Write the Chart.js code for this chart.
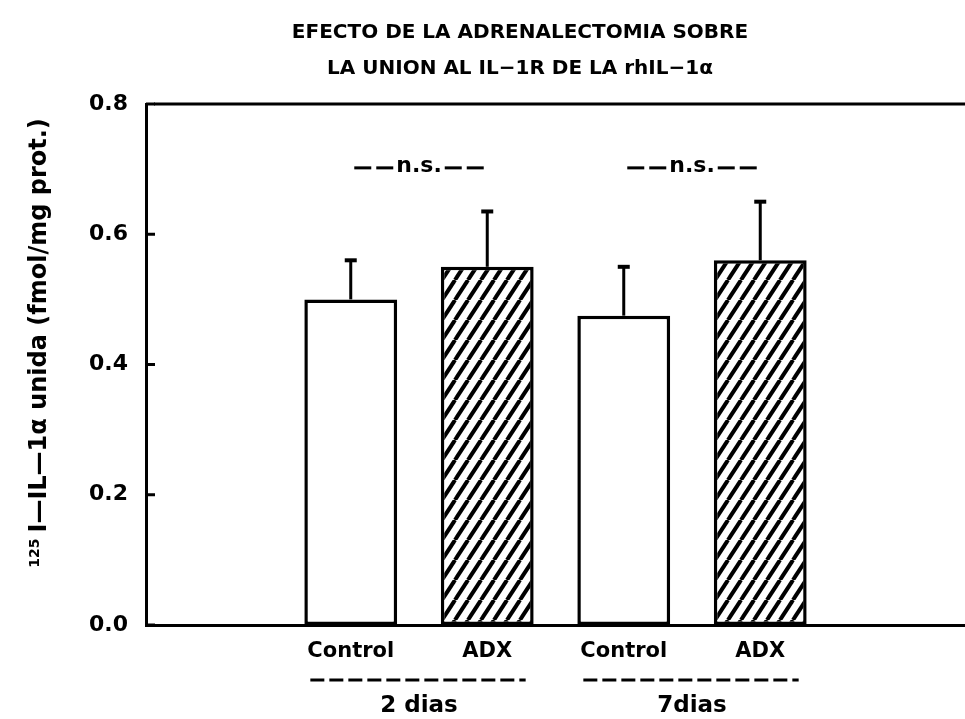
<!DOCTYPE html>
<html>
<head>
<meta charset="utf-8">
<script src="https://cdn.jsdelivr.net/npm/chart.js@4.4.1/dist/chart.umd.min.js"></script>
<style>
  html, body { margin: 0; padding: 0; background: #fff; }
  #wrap { width: 965px; height: 719px; }
</style>
</head>
<body>
<div id="wrap"><canvas id="chart" width="965" height="719"></canvas></div>
<script>
// data
const categories = ['', 'Control', 'ADX', 'Control', 'ADX', ''];
const means = [null, 0.50, 0.55, 0.475, 0.56, null];
const errors = [null, 0.06, 0.085, 0.075, 0.09, null];
const hatched = [false, false, true, false, true, false];
const groupLabels = ['2 dias', '7dias'];
const groupIndex = [[1, 2], [3, 4]];
const sigLabels = ['n.s.', 'n.s.'];
const sigLevel = 0.705;
const yTicks = [0, 0.2, 0.4, 0.6, 0.8];
const titleLines = ['EFECTO DE LA ADRENALECTOMIA SOBRE', 'LA UNION AL IL\u22121R DE LA rhIL\u22121\u03b1'];
const yTitleSup = '125';
const yTitle = 'I\u2014IL\u20141\u03b1 unida (fmol/mg prot.)';

const FONT = '"DejaVu Sans", sans-serif';

function makeHatch() {
	var c = document.createElement('canvas');
	c.width = 13;
	c.height = 20;
	var g = c.getContext('2d');
	g.fillStyle = '#fff';
	g.fillRect(0, 0, 13, 20);
	g.strokeStyle = '#000';
	g.lineWidth = 4;
	[-13, 0, 13].forEach(function(dx) {
		g.beginPath();
		g.moveTo(dx, 20);
		g.lineTo(dx + 13, 0);
		g.stroke();
	});
	return document.getElementById('chart').getContext('2d').createPattern(c, 'repeat');
}

function line(ctx, x1, y1, x2, y2) {
	ctx.beginPath();
	ctx.moveTo(x1, y1);
	ctx.lineTo(x2, y2);
	ctx.stroke();
}

function dashes(ctx, x1, x2, y, dash, gap) {
	for (var x = x1; x < x2; x += dash + gap) {
		line(ctx, x, y, Math.min(x + dash, x2), y);
	}
}

const decorations = {
	id: 'decorations',
	afterDraw: function(chart) {
		var ctx = chart.ctx;
		var area = chart.chartArea;
		var y = chart.scales.y;
		var meta = chart.getDatasetMeta(0);
		ctx.save();
		ctx.strokeStyle = '#000';
		ctx.fillStyle = '#000';

		// top frame line
		ctx.lineWidth = 3;
		line(ctx, area.left + 8, area.top, area.right, area.top);

		// inward tick marks
		yTicks.forEach(function(v) {
			var py = y.getPixelForValue(v);
			line(ctx, area.left, py, area.left + 9, py);
		});

		// error bars (upper only)
		means.forEach(function(m, i) {
			if (m == null) return;
			var bar = meta.data[i];
			var top = y.getPixelForValue(m + errors[i]);
			ctx.lineWidth = 3;
			line(ctx, bar.x, bar.y, bar.x, top);
			ctx.lineWidth = 4;
			line(ctx, bar.x - 6, top, bar.x + 6, top);
		});

		// n.s. labels and group labels
		ctx.textAlign = 'center';
		ctx.textBaseline = 'middle';
		groupIndex.forEach(function(idx, g) {
			var b1 = meta.data[idx[0]];
			var b2 = meta.data[idx[1]];
			var xc = (b1.x + b2.x) / 2;

			var sy = y.getPixelForValue(sigLevel);
			ctx.font = 'bold 22px ' + FONT;
			var w = ctx.measureText(sigLabels[g]).width;
			ctx.fillText(sigLabels[g], xc, sy);
			ctx.lineWidth = 3;
			dashes(ctx, xc - w / 2 - 42, xc - w / 2 - 3, sy + 2, 17, 5);
			dashes(ctx, xc + w / 2 + 3, xc + w / 2 + 42, sy + 2, 17, 5);

			var left = b1.x - b1.width / 2 + 6;
			var right = b2.x + b2.width / 2 - 8;
			dashes(ctx, left, right, 680, 14, 5);
			ctx.font = 'bold 23px ' + FONT;
			ctx.fillText(groupLabels[g], xc, 706);
		});

		// main title
		ctx.font = 'bold 20px ' + FONT;
		ctx.fillText(titleLines[0], 520, 33);
		ctx.fillText(titleLines[1], 520, 69);

		// y axis title, rotated
		ctx.translate(40, 343);
		ctx.rotate(-Math.PI / 2);
		ctx.font = 'bold 24px ' + FONT;
		var tw = ctx.measureText(yTitle).width;
		ctx.font = 'bold 14px ' + FONT;
		var sw = ctx.measureText(yTitleSup).width;
		var start = -(tw + sw + 6) / 2;
		ctx.textAlign = 'left';
		ctx.fillText(yTitleSup, start, -5);
		ctx.font = 'bold 24px ' + FONT;
		ctx.fillText(yTitle, start + sw + 6, 0);
		ctx.restore();
	}
};

var hatch = makeHatch();

new Chart(document.getElementById('chart'), {
	type: 'bar',
	data: {
		labels: categories,
		datasets: [
			{
				data: means,
				backgroundColor: hatched.map(function(h) { return h ? hatch : '#fff'; }),
				borderColor: '#000',
				borderWidth: 3.5,
				borderSkipped: false,
				barPercentage: 0.68,
				categoryPercentage: 1.0
			}
		]
	},
	options: {
		responsive: false,
		animation: false,
		layout: { padding: { top: 104, right: 0, left: 0, bottom: 0 } },
		plugins: {
			legend: { display: false },
			tooltip: { enabled: false }
		},
		scales: {
			x: {
				grid: { display: false, drawTicks: false },
				border: { display: true, color: '#000', width: 3 },
				ticks: {
					color: '#000',
					padding: 14,
					font: { family: FONT, weight: 'bold', size: 21 }
				},
				afterFit: function(scale) { scale.height = 94; }
			},
			y: {
				min: 0,
				max: 0.8,
				grid: { display: false, drawTicks: false },
				border: { display: true, color: '#000', width: 3 },
				afterBuildTicks: function(scale) {
					scale.ticks = yTicks.map(function(v) { return { value: v }; });
				},
				ticks: {
					color: '#000',
					padding: 18,
					font: { family: FONT, weight: 'bold', size: 22 },
					callback: function(v) { return Number(v).toFixed(1); }
				},
				afterFit: function(scale) { scale.width = 146; }
			}
		}
	},
	plugins: [decorations]
});
</script>
</body>
</html>
